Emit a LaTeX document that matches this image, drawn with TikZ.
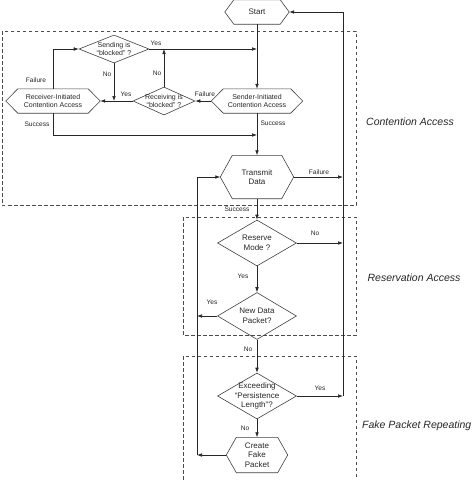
\documentclass[tikz,border=0pt]{standalone}
\usepackage{fontspec}
\setmainfont{Liberation Sans}
\usetikzlibrary{shapes.geometric,arrows.meta,calc}
\tikzset{
 ln/.style={line width=0.6pt, draw=black!85},
 arr/.style={ln, -{Latex[length=5pt,width=3.6pt]}},
 shp/.style={line width=0.6pt, draw=black!75},
 small/.style={font=\fontsize{7}{8.5}\selectfont, align=center, text=black!85, inner sep=0pt},
 big/.style={font=\fontsize{8}{9.6}\selectfont, align=center, text=black!85, inner sep=0pt},
 dia/.style={diamond, shp, inner sep=0pt},
 lab/.style={font=\fontsize{6.6}{7}\selectfont, text=black!85, inner sep=0pt},
 region/.style={draw=black!70, line width=0.7pt, dash pattern=on 3.5pt off 2.5pt},
 titletext/.style={font=\fontsize{10.5}{12}\selectfont\itshape, text=black!85, inner sep=0pt},
}
\newcommand\hexbox[7]{%
 \node[#6, minimum width=#3, minimum height=#4] (#1) at #2 {#7};
 \draw[shp] (#1.west) -- ([xshift=#5]#1.north west) -- ([xshift=-#5]#1.north east) -- (#1.east) -- ([xshift=-#5]#1.south east) -- ([xshift=#5]#1.south west) -- cycle;
}
\begin{document}
\begin{tikzpicture}[x=1pt,y=-1pt]
\useasboundingbox (0,0) rectangle (474,480);
% regions
\draw[region] (2,31) rectangle (356,205);
\draw[region] (183,217) rectangle (356,335);
\draw[region] (183,356) rectangle (356,495);
\node[titletext] (tca) at (410,122) {Contention Access};
\node[titletext] (tra) at (414,278) {Reservation Access};
\node[titletext, anchor=west] (tfp) at (362,426) {Fake Packet Repeating};
% hexagons
\hexbox{start}{(257,12)}{64pt}{24pt}{9pt}{big}{Start}
\hexbox{recv}{(53,101)}{94pt}{24pt}{12pt}{small}{Receiver-Initiated\\Contention Access}
\hexbox{send}{(257,101)}{91pt}{24pt}{12pt}{small}{Sender-Initiated\\Contention Access}
\hexbox{tx}{(257,177)}{73pt}{43pt}{12pt}{big}{Transmit\\Data}
\hexbox{create}{(257,455)}{61pt}{35pt}{10pt}{big}{Create\\Fake\\Packet}
% diamonds
\node[dia, minimum width=70pt, minimum height=28pt, label={[small]center:Sending is\\``blocked'' ?}] (sendblk) at (114,49) {};
\node[dia, minimum width=62pt, minimum height=28pt, label={[small]center:Receiving is\\``blocked'' ?}] (recvblk) at (164,101) {};
\node[dia, minimum width=79pt, minimum height=46pt, label={[big]center:Reserve\\Mode ?}] (reserve) at (257,243) {};
\node[dia, minimum width=79pt, minimum height=47pt, label={[big]center:New Data\\Packet?}] (newdata) at (257,316) {};
\node[dia, minimum width=79pt, minimum height=46pt, label={[big]center:Exceeding\\``Persistence\\Length''?}] (exceed) at (257,396) {};
% helper coordinates
\coordinate (rx) at (343,12);
\coordinate (lx) at (197,177);
\coordinate (sucj) at (257,135);
% connectors
\draw[arr] (start.south) -- (send.north);
\draw[arr] (send.south) -- (tx.north);
\draw[arr] (recv.north) |- (sendblk.west);
\draw[arr] (sendblk.east) -- (sendblk.east -| send.north);
\draw[arr] (sendblk.south) -- (sendblk.south |- recvblk.west);
\draw[arr] (recvblk.west) -- (recv.east);
\draw[arr] (recvblk.north) -- (recvblk.north |- sendblk.east);
\draw[arr] (send.west) -- (recvblk.east);
\draw[arr] (recv.south) |- (sucj);
\draw[arr] (tx.east) -- (tx.east -| rx);
\draw[arr] (tx.south) -- (reserve.north);
\draw[arr] (reserve.east) -- (reserve.east -| rx);
\draw[arr] (reserve.south) -- (newdata.north);
\draw[arr] (newdata.west) -- (newdata.west -| lx);
\draw[arr] (newdata.south) -- (exceed.north);
\draw[arr] (exceed.east) -- (exceed.east -| rx);
\draw[arr] (exceed.south) -- (create.north);
\draw[arr] (create.west) -- (create.west -| lx);
\draw[arr] (create.west -| lx) -- (lx) -- (tx.west);
\draw[arr] (exceed.east -| rx) -- (rx) -- (start.east);
% edge labels
\node[lab] (l1) at (36,80) {Failure};
\node[lab] (l2) at (156,43) {Yes};
\node[lab] (l3) at (107,74) {No};
\node[lab] (l4) at (126,94) {Yes};
\node[lab] (l5) at (157,73) {No};
\node[lab] (l6) at (205,94) {Failure};
\node[lab] (l7) at (37,124) {Success};
\node[lab] (l8) at (273,123) {Success};
\node[lab] (l9) at (319,172) {Failure};
\node[lab] (l10) at (237,209) {Success};
\node[lab] (l11) at (315,233) {No};
\node[lab] (l12) at (243,276) {Yes};
\node[lab] (l13) at (212,302) {Yes};
\node[lab] (l14) at (248,349) {No};
\node[lab] (l15) at (320,388) {Yes};
\node[lab] (l16) at (245,428) {No};
\end{tikzpicture}
\end{document}
